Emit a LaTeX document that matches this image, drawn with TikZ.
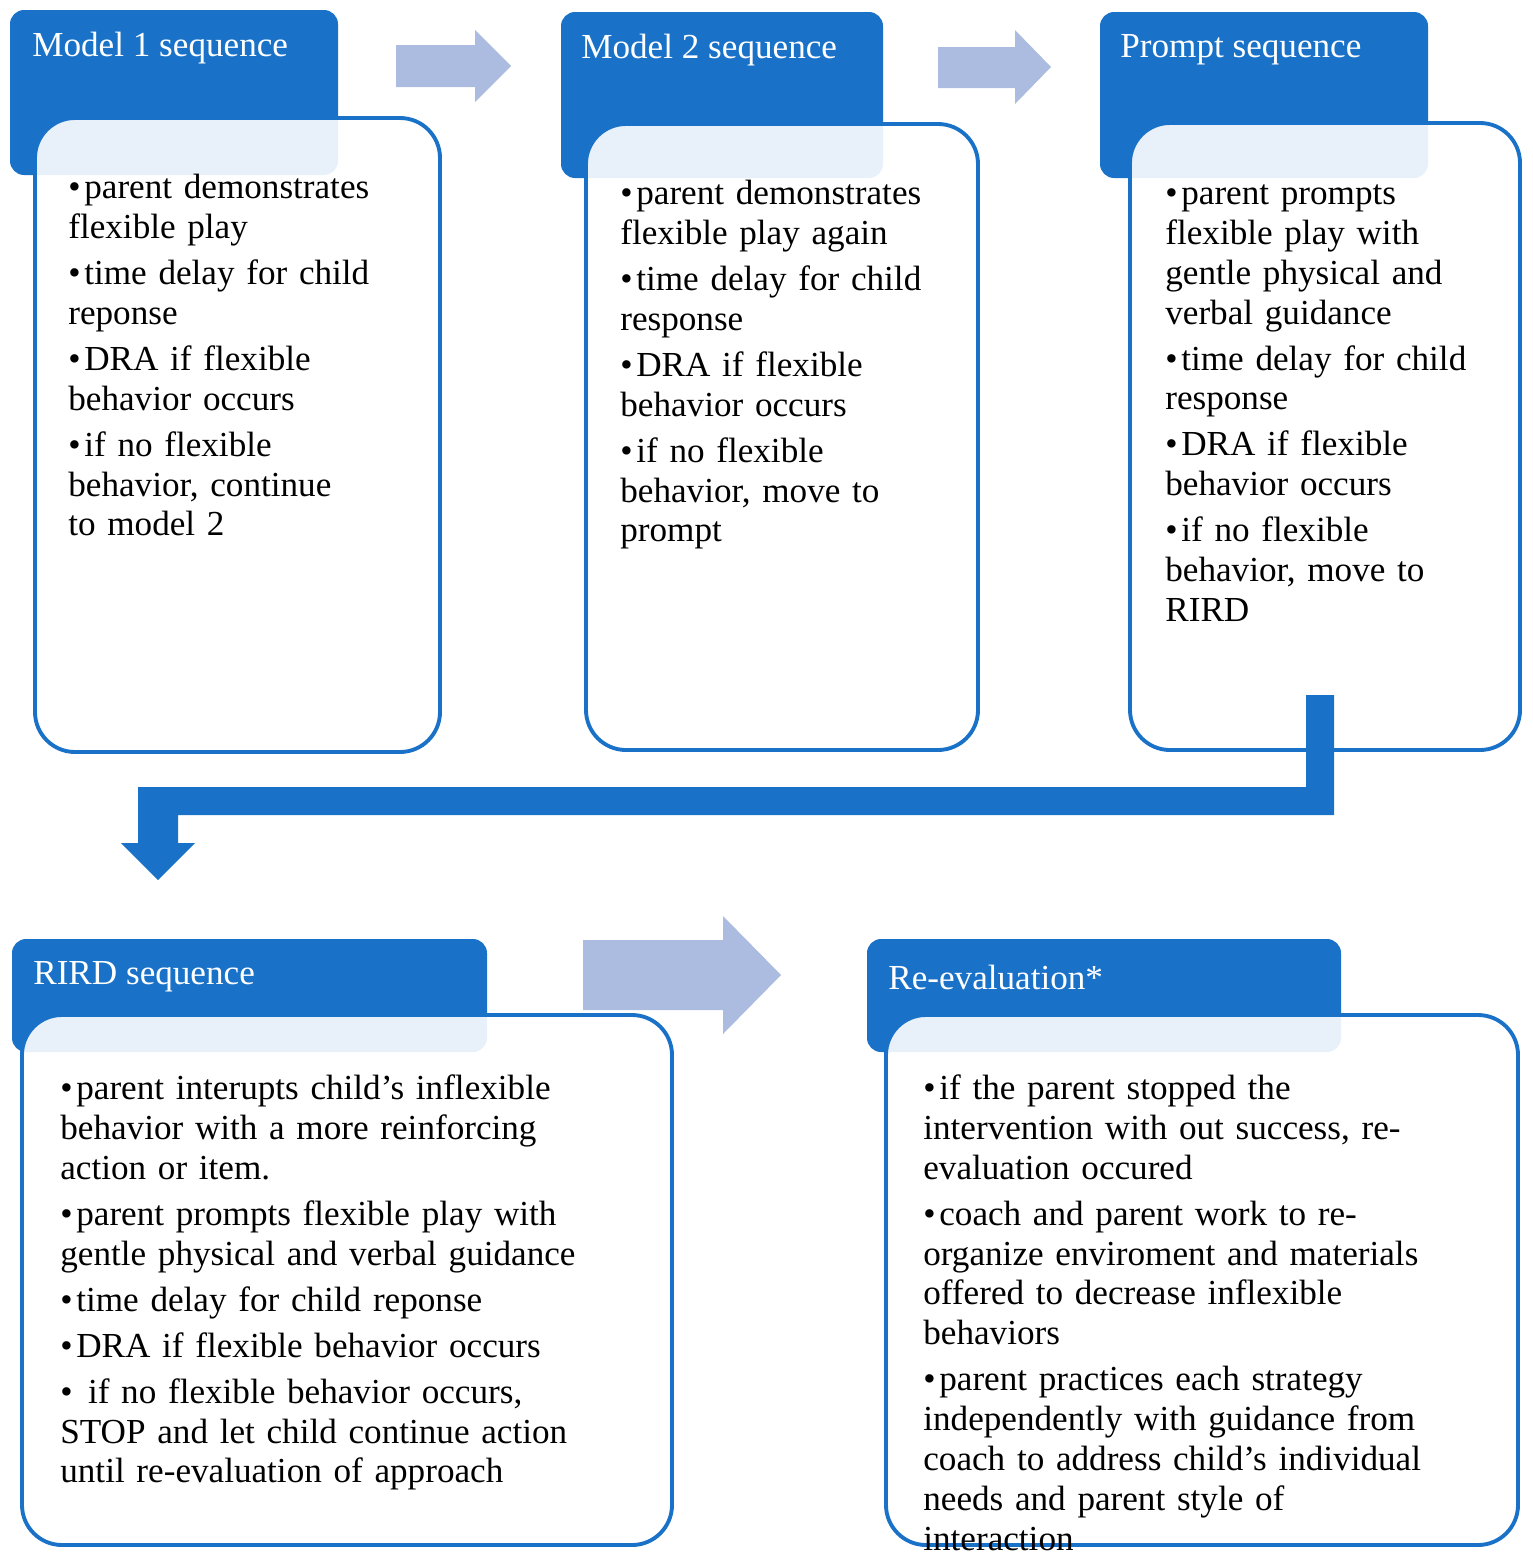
\documentclass[tikz,border=0pt]{standalone}
\usepackage{fontspec}
\setmainfont{Liberation Serif}
\definecolor{hdr}{HTML}{1A72C8}
\definecolor{lite}{HTML}{ABBCE0}
\newcommand{\bu}[1]{\par\noindent\hangindent=0.32cm\hangafter=1\makebox[0.32cm][l]{\textbullet}#1}
\begin{document}
\begin{tikzpicture}[x=0.02cm,y=-0.02cm,
  head/.style={fill=hdr,rounded corners=8pt},
  card/.style={fill=white,fill opacity=0.9,draw=hdr,line width=2.2pt,rounded corners=0.8cm},
  htext/.style={anchor=west,text=white,font=\fontsize{20}{24}\selectfont,inner sep=0},
  btext/.style={anchor=north west,inner sep=0,align=left,text width=12cm,
    font=\fontsize{20}{22.7}\selectfont\setlength{\parskip}{3.5pt}},
  light/.style={fill=lite},
  dark/.style={fill=hdr}]
\useasboundingbox (0,0) rectangle (1533,1559);
% arrows
\fill[light] (396,45) -- (475,45) -- (475,30) -- (511,66) -- (475,102) -- (475,87) -- (396,87) -- cycle;
\fill[light] (938,47) -- (1015,47) -- (1015,30) -- (1051,67) -- (1015,104) -- (1015,88) -- (938,88) -- cycle;
\fill[light] (583,940) -- (723,940) -- (723,916) -- (781,975) -- (723,1034) -- (723,1010) -- (583,1010) -- cycle;
% headers
\fill[head] (10,10) rectangle (338,175);
\fill[head] (561,12) rectangle (883,178);
\fill[head] (1100,12) rectangle (1428,178);
\fill[head] (12,939) rectangle (487,1052);
\fill[head] (867,939) rectangle (1341,1052);
% cards
\draw[card] (35,118) rectangle (440,752);
\draw[card] (586,124) rectangle (978,750);
\draw[card] (1130,123) rectangle (1520,750);
\draw[card] (22,1015) rectangle (672,1545);
\draw[card] (886,1015) rectangle (1518,1545);
% bent arrow
\fill[dark] (1306,695) -- (1334,695) -- (1334,815) -- (178,815) -- (178,843) -- (195,843) -- (158,880) -- (121,843) -- (138,843) -- (138,787) -- (1306,787) -- cycle;
% header texts
\node[htext] (h1) at (32,48) {Model 1 sequence};
\node[htext] (h2) at (581,50) {Model 2 sequence};
\node[htext] (h3) at (1120,50) {Prompt sequence};
\node[htext] (h4) at (33,977) {RIRD sequence};
\node[htext] (h5) at (888,977) {Re-evaluation*};
% body texts
\node[btext] (b1) at (68,152) {\bu{parent demonstrates\\flexible play}\bu{time delay for child\\reponse}\bu{DRA if flexible\\behavior occurs}\bu{if no flexible\\behavior, continue\\to model 2}};
\node[btext] (b2) at (620,158) {\bu{parent demonstrates\\flexible play again}\bu{time delay for child\\response}\bu{DRA if flexible\\behavior occurs}\bu{if no flexible\\behavior, move to\\prompt}};
\node[btext] (b3) at (1165,158) {\bu{parent prompts\\flexible play with\\gentle physical and\\verbal guidance}\bu{time delay for child\\response}\bu{DRA if flexible\\behavior occurs}\bu{if no flexible\\behavior, move to\\RIRD}};
\node[btext] (b4) at (60,1053) {\bu{parent interupts child's inflexible\\behavior with a more reinforcing\\action or item.}\bu{parent prompts flexible play with\\gentle physical and verbal guidance}\bu{time delay for child reponse}\bu{DRA if flexible behavior occurs}\bu{\ if no flexible behavior occurs,\\STOP and let child continue action\\until re-evaluation of approach}};
\node[btext] (b5) at (923,1053) {\bu{if the parent stopped the\\intervention with out success, re-\\evaluation occured}\bu{coach and parent work to re-\\organize enviroment and materials\\offered to decrease inflexible\\behaviors}\bu{parent practices each strategy\\independently with guidance from\\coach to address child's individual\\needs and parent style of\\interaction}};
\end{tikzpicture}
\end{document}
